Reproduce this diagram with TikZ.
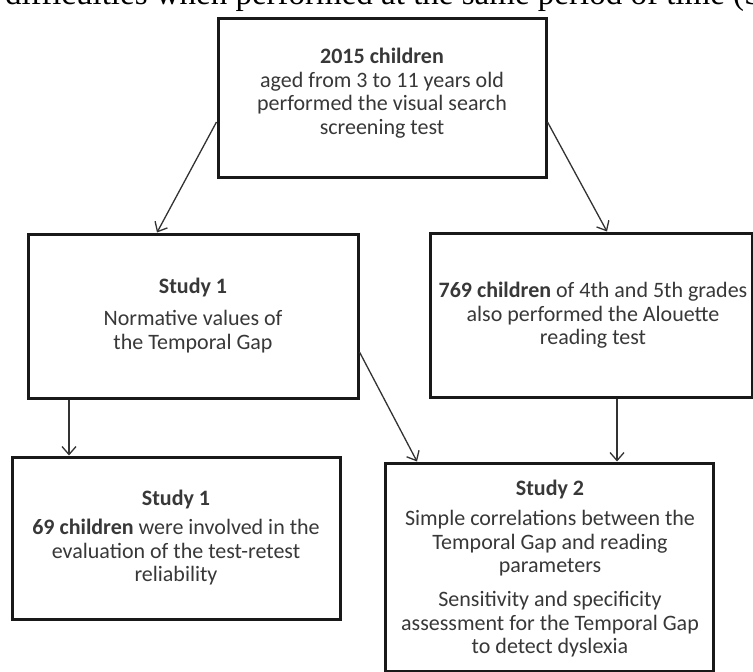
\documentclass[tikz,border=0pt]{standalone}
\usepackage{fontspec}
\setmainfont{Carlito}
\newfontfamily\hdrfont{Liberation Serif}
\usetikzlibrary{arrows.meta,calc}
\begin{document}
\begin{tikzpicture}[x=1pt,y=-1pt,
  box/.style={draw=black!90, line width=3pt, fill=none},
  txt/.style={font=\fontsize{22}{23.5}\selectfont, align=center, inner sep=0pt, anchor=north, text=black!78},
  arr/.style={-{Straight Barb[length=8pt,width=14pt]}, line width=1.3pt, draw=black!80}]
\useasboundingbox (0,0) rectangle (753,672);
\clip (0,0) rectangle (753,672);
\fill[white] (0,0) rectangle (753,672);
\node[font=\hdrfont\fontsize{33}{36}\selectfont, anchor=base west, inner sep=0pt] (hdr) at (5,4) {difficulties when performed at the same period of time (Se};
% boxes
\node[box, minimum width=328pt, minimum height=159pt] (top) at (382,97.5) {};
\node[box, minimum width=330pt, minimum height=164pt] (s1) at (193,316) {};
\node[box, minimum width=322pt, minimum height=164pt] (rb) at (591,315) {};
\node[box, minimum width=328pt, minimum height=162pt] (s1b) at (176,538) {};
\node[box, minimum width=328pt, minimum height=208pt] (s2) at (549,567) {};
% texts
\node[txt] (ttop) at (382,48) {\textbf{2015 children}\\aged from 3 to 11 years old\\performed the visual search\\screening test};
\node[txt] (ts1) at (193,278) {\textbf{Study 1}\\[8.5pt]Normative values of\\the Temporal Gap};
\node[txt] (trb) at (593,282) {\textbf{769 children} of 4th and 5th grades\\also performed the Alouette\\reading test};
\node[txt] (ts1b) at (176,490) {\textbf{Study 1}\\[5.5pt]\textbf{69 children} were involved in the\\evaluation of the test-retest\\reliability};
\node[txt] (ts2) at (550,480) {\textbf{Study 2}\\[6.5pt]Simple correlations between the\\Temporal Gap and reading\\parameters\\[10.5pt]Sensitivity and specificity\\assessment for the Temporal Gap\\to detect dyslexia};
% connectors
\draw[arr] ([yshift=-24.5pt]top.west) -- ([xshift=-36pt]s1.north);
\draw[arr] ([yshift=-24.5pt]top.east) -- ([xshift=16pt]rb.north);
\draw[arr] ([xshift=-124pt]s1.south) -- ([xshift=-107pt]s1b.north);
\draw[arr] ([yshift=-36pt]s1.east) -- ([xshift=-132pt]s2.north);
\draw[arr] ([xshift=26pt]rb.south) -- ([xshift=68pt]s2.north);
\end{tikzpicture}
\end{document}
